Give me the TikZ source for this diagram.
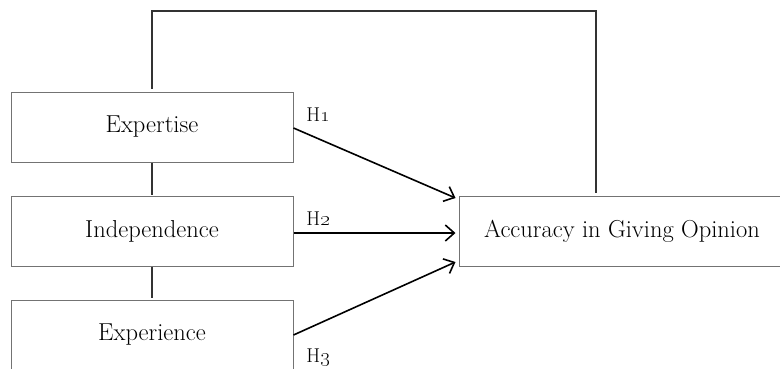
\documentclass[tikz,border=0pt]{standalone}
\usetikzlibrary{arrows.meta}
\begin{document}
\begin{tikzpicture}[x=1pt,y=1pt,
  box/.style={draw=black!55, line width=1pt, minimum width=282pt, minimum height=70pt, inner sep=0pt, font=\fontsize{24.5}{28}\selectfont},
  link/.style={draw=black!80, line width=1.2pt},
  arr/.style={draw=black, line width=1.6pt, -{Straight Barb[length=9pt,width=16pt,line width=1.6pt]}},
  lbl/.style={font=\fontsize{20}{24}\selectfont, inner sep=0pt}]
\useasboundingbox (0,0) rectangle (780,-368);
\clip (0,0) rectangle (780,-368);
\node[box] (e) at (152,-127) {Expertise};
\node[box] (i) at (152,-231) {Independence};
\node[box, minimum height=74pt] (x) at (152,-337) {};
\node[font=\fontsize{24.5}{28}\selectfont] (xt) at (152,-335) {Experience};
\node[box, minimum width=326pt] (a) at (622,-231) {Accuracy in Giving Opinion};
\coordinate (topR) at (596,-11);
\draw[link] ([yshift=3pt]e.north) |- (topR) -- ([yshift=3pt]topR |- a.north);
\draw[link] (e.south) -- ([yshift=1pt]i.north);
\draw[link] (i.south) -- ([yshift=2pt]x.north);
\draw[arr] ([yshift=-1pt]e.east) -- ([xshift=-3pt,yshift=33pt]a.west);
\draw[arr] ([yshift=-2pt]i.east) -- ([xshift=-3pt,yshift=-2pt]a.west);
\draw[arr] ([yshift=2pt]x.east) -- ([xshift=-3pt,yshift=-31pt]a.west);
\node[lbl] (h1) at (318,-115) {H\oldstylenums{1}};
\node[lbl] (h2) at (318,-219) {H\oldstylenums{2}};
\node[lbl] (h3) at (318,-358) {H\oldstylenums{3}};
\end{tikzpicture}
\end{document}
